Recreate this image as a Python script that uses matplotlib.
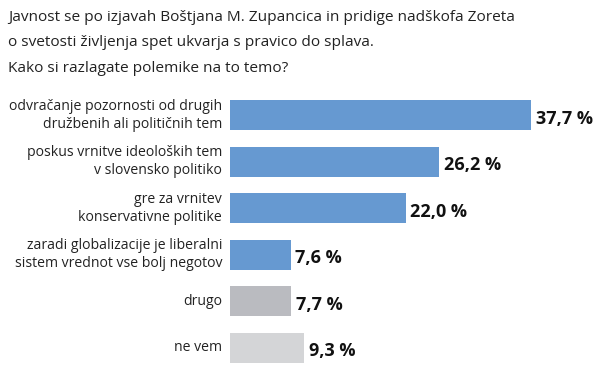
import matplotlib.pyplot as plt

plt.rcParams['font.family'] = ['Open Sans', 'DejaVu Sans']

labels = [
    "odvračanje pozornosti od drugih\ndružbenih ali političnih tem",
    "poskus vrnitve ideoloških tem\nv slovensko politiko",
    "gre za vrnitev\nkonservativne politike",
    "zaradi globalizacije je liberalni\nsistem vrednot vse bolj negotov",
    "drugo",
    "ne vem",
]
values = [37.7, 26.2, 22.0, 7.6, 7.7, 9.3]
colors = ["#6699d1", "#6699d1", "#6699d1", "#6699d1", "#babbc0", "#d4d5d7"]

title = ("Javnost se po izjavah Boštjana M. Zupancica in pridige nadškofa Zoreta\n"
         "o svetosti življenja spet ukvarja s pravico do splava.\n"
         "Kako si razlagate polemike na to temo?")

W, H = 600, 378
fig = plt.figure(figsize=(6, 3.78), dpi=100)
# axes placed in pixel coordinates: x 230..600, y 92..371 (from top)
ax = fig.add_axes([230 / W, 1 - 371 / H, 370 / W, (371 - 92) / H])

y = list(range(len(values)))
ax.barh(y, values, height=0.64, color=colors)
ax.set_xlim(0, 370 / 7.98)
ax.set_ylim(len(values) - 0.5, -0.5)
ax.axis('off')

for i, (v, lab) in enumerate(zip(values, labels)):
    ax.text(v + 0.6, i + 0.08, f"{v:.1f}".replace('.', ',') + " %",
            va='center', ha='left', fontsize=13, fontweight='bold', color='#111111')
    ax.text(-1.0, i, lab, va='center', ha='right', fontsize=10.1,
            color='#222222', linespacing=1.25)

fig.text(8 / W, 1 - 10 / H, title, ha='left', va='top', fontsize=11.1,
         color='#222222', linespacing=1.95)

fig.savefig("out.png", dpi=100)
